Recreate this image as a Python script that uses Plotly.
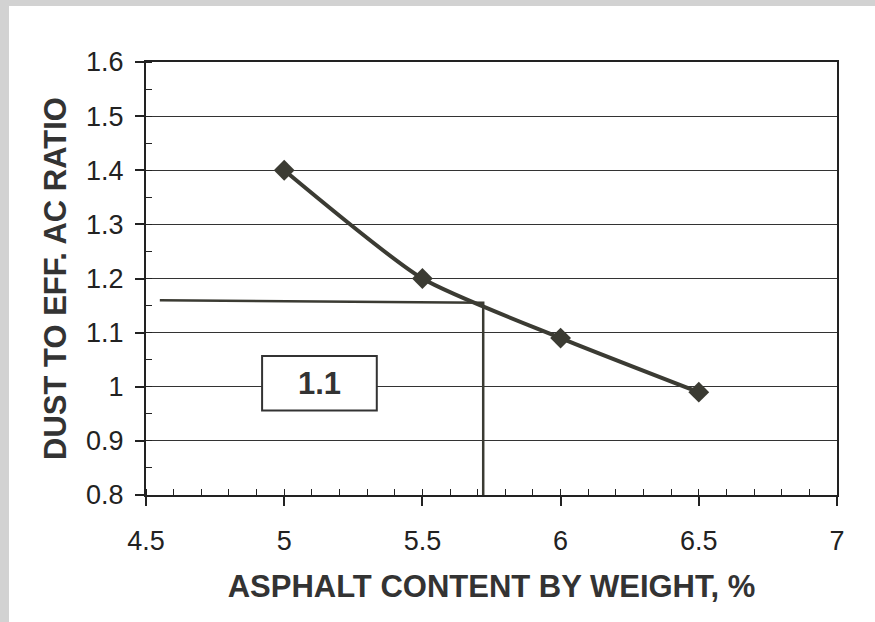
import plotly.graph_objects as go

# Data
asphalt_content = [5.0, 5.5, 6.0, 6.5]
dust_ratio = [1.40, 1.20, 1.09, 0.99]

# Design-value construction lines
design_ratio = 1.16
design_ac = 5.72
guide_x = [4.55, design_ac, design_ac]
guide_y = [design_ratio, design_ratio - 0.005, 0.8]
box_label = "1.1"

x_title = "ASPHALT CONTENT BY WEIGHT, %"
y_title = "DUST TO EFF. AC RATIO"

W, H = 875, 622
ML, MR, MT, MB = 146, 38, 62, 127
PW, PH = W - ML - MR, H - MT - MB

def px_x(p):
    return (p - ML) / PW

def px_y(p):
    return 1 - (p - MT) / PH

line_col = "#3b3b33"
FONT = "Liberation Sans, Arial, sans-serif"

fig = go.Figure()

fig.add_trace(go.Scatter(
    x=guide_x, y=guide_y, mode="lines",
    line=dict(color=line_col, width=2.5), hoverinfo="skip", showlegend=False))

fig.add_trace(go.Scatter(
    x=asphalt_content, y=dust_ratio, mode="lines+markers",
    line=dict(color=line_col, width=4, shape="spline", smoothing=0.6),
    marker=dict(symbol="diamond", size=16, color=line_col),
    showlegend=False))

shapes = [
    # scanned paper edges
    dict(type="rect", xref="paper", yref="paper", layer="below",
         x0=px_x(0), x1=px_x(9), y0=px_y(H), y1=px_y(0),
         fillcolor="#d2d2d2", line=dict(width=0)),
    dict(type="rect", xref="paper", yref="paper", layer="below",
         x0=px_x(0), x1=px_x(W), y0=px_y(6), y1=px_y(0),
         fillcolor="#d2d2d2", line=dict(width=0)),
    # label box
    dict(type="rect", xref="x", yref="y", layer="above",
         x0=4.92, x1=5.335, y0=0.956, y1=1.057,
         fillcolor="white", line=dict(color="#333333", width=2)),
]

fig.add_annotation(x=(4.92 + 5.335) / 2, y=(0.956 + 1.057) / 2, xref="x", yref="y",
                   text="<b>" + box_label + "</b>", showarrow=False,
                   font=dict(family=FONT, size=31, color="#333333"))

fig.update_layout(
    width=W, height=H,
    margin=dict(l=ML, r=MR, t=MT, b=MB),
    paper_bgcolor="white", plot_bgcolor="white",
    shapes=shapes,
    font=dict(family=FONT, color="#222222"),
    xaxis=dict(
        range=[4.5, 7], dtick=0.5, tick0=4.5,
        showgrid=False, zeroline=False,
        showline=True, linecolor="#222222", linewidth=2, mirror=True,
        ticks="outside", ticklen=9, tickwidth=1.5, tickcolor="#222222",
        minor=dict(ticks="inside", dtick=0.1, ticklen=6, tickwidth=1, tickcolor="#222222", showgrid=False),
        tickfont=dict(family=FONT, size=27, color="#222222"),
        ticklabelstandoff=12,
        title=dict(text="<b>" + x_title + "</b>", font=dict(family=FONT, size=31, color="#333333"), standoff=20),
    ),
    yaxis=dict(
        range=[0.8, 1.6], dtick=0.1, tick0=0.8,
        showgrid=True, gridcolor="#333333", gridwidth=1.2,
        zeroline=False,
        showline=True, linecolor="#222222", linewidth=2, mirror=True,
        ticks="outside", ticklen=9, tickwidth=1.5, tickcolor="#222222",
        minor=dict(ticks="inside", dtick=0.05, ticklen=6, tickwidth=1, tickcolor="#222222", showgrid=False),
        tickfont=dict(family=FONT, size=27, color="#222222"),
        ticklabelstandoff=6,
        title=dict(text="<b>" + y_title + "</b>", font=dict(family=FONT, size=31, color="#333333"), standoff=10),
    ),
)

fig.write_html("out.html")
